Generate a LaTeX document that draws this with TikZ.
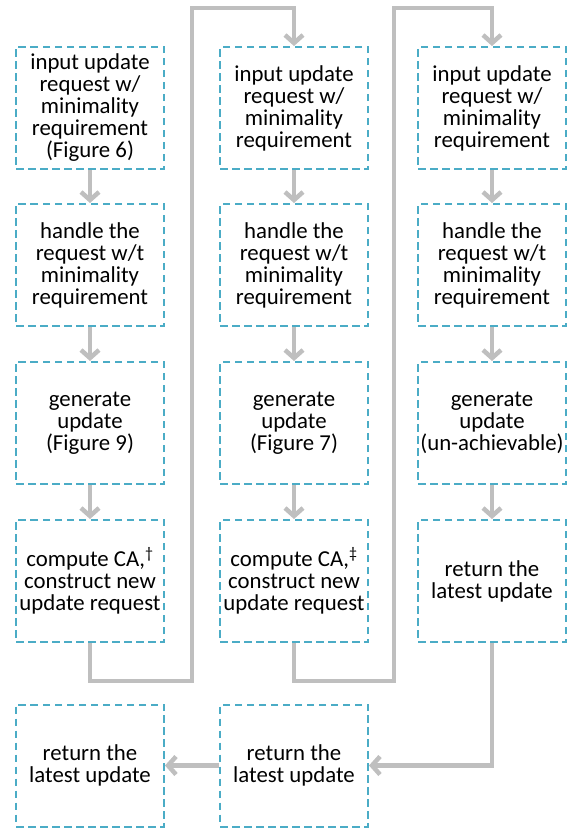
\documentclass[tikz,border=0pt]{standalone}
\usepackage{fontspec}
\setmainfont{Carlito}
\usetikzlibrary{arrows.meta}

\definecolor{boxblue}{HTML}{4BACC6}
\definecolor{flowgray}{HTML}{BFBFBF}

\begin{document}
\begin{tikzpicture}[x=1pt, y=-1pt,
  stepbox/.style={draw=boxblue, line width=2pt, dash pattern=on 7.5pt off 4.5pt,
    minimum width=148pt, minimum height=122pt, inner sep=0pt,
    align=center, font=\fontsize{22.8}{22}\selectfont},
  flow/.style={draw=flowgray, line width=4.5pt,
    -{Straight Barb[length=8pt, width=18pt]}}]

\useasboundingbox (0,0) rectangle (571,831);

\def\colA{90}
\def\colB{294}
\def\colC{492}

\node [stepbox] (in1) at (\colA,108) {input update\\ request w/\\ minimality\\ requirement\\ (Figure 6)};
\node [stepbox] (hd1) at (\colA,265) {handle the\\ request w/t\\ minimality\\ requirement};
\node [stepbox] (gen1) at (\colA,423) {generate\\ update\\ (Figure 9)};
\node [stepbox] (ca1) at (\colA,581) {compute CA,\textsuperscript{†}\\ construct new\\ update request};

\node [stepbox] (in2) at (\colB,108) {input update\\ request w/\\ minimality\\ requirement};
\node [stepbox] (hd2) at (\colB,265) {handle the\\ request w/t\\ minimality\\ requirement};
\node [stepbox] (gen2) at (\colB,423) {generate\\ update\\ (Figure 7)};
\node [stepbox] (ca2) at (\colB,581) {compute CA,\textsuperscript{‡}\\ construct new\\ update request};

\node [stepbox] (in3) at (\colC,108) {input update\\ request w/\\ minimality\\ requirement};
\node [stepbox] (hd3) at (\colC,265) {handle the\\ request w/t\\ minimality\\ requirement};
\node [stepbox] (gen3) at (\colC,423) {generate\\ update\\ (un-achievable)};
\node [stepbox] (ret3) at (\colC,581) {return the\\ latest update};

\node [stepbox] (ret1) at (\colA,765.5) {return the\\ latest update};
\node [stepbox] (ret2) at (\colB,765.5) {return the\\ latest update};

\foreach \c in {1,2,3} {
  \draw [flow] (in\c) -- (hd\c);
  \draw [flow] (hd\c) -- (gen\c);
}
\draw [flow] (gen1) -- (ca1);
\draw [flow] (gen2) -- (ca2);
\draw [flow] (gen3) -- (ret3);

\coordinate (low1) at (192,681);
\coordinate (top1) at (192,8);
\coordinate (low2) at (394,681);
\coordinate (top2) at (394,8);

\draw [flow] (ca1.south) |- (low1) -- (top1) -| (in2.north);
\draw [flow] (ca2.south) |- (low2) -- (top2) -| (in3.north);
\draw [flow] (ret3.south) |- (ret2.east);
\draw [flow] (ret2.west) -- (ret1.east);

\end{tikzpicture}
\end{document}
